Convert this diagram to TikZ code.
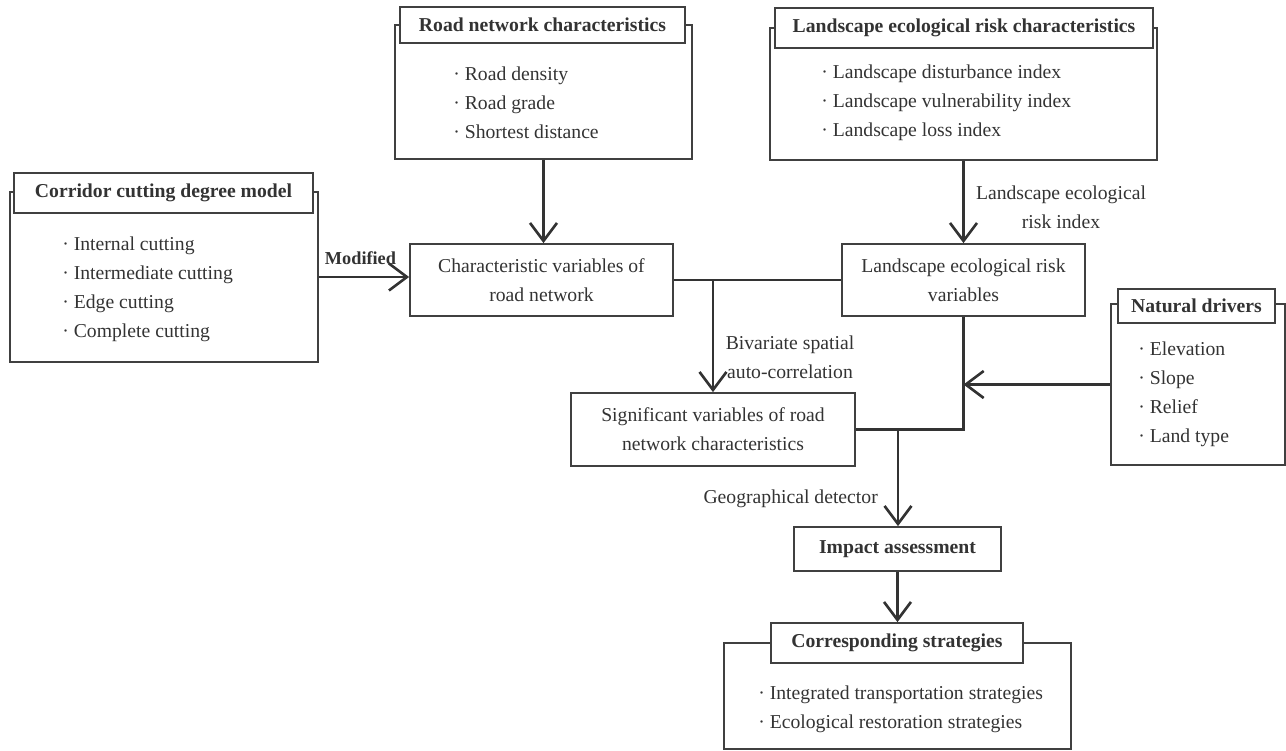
\documentclass[tikz,border=0pt]{standalone}
\usepackage{fontspec}
\setmainfont{Liberation Serif}
\usepackage{tikz}
\usetikzlibrary{arrows.meta,positioning}

\begin{document}
\begin{tikzpicture}[x=0.02cm, y=-0.02cm,
  every node/.style={font=\fontsize{11.2}{16.5}\selectfont, text=black!80},
  frame/.style={rectangle, draw=black!75, line width=1pt},
  head/.style={rectangle, draw=black!75, line width=1pt, fill=white, font=\fontsize{11.2}{14}\selectfont\bfseries},
  box/.style={rectangle, draw=black!75, line width=1pt, align=center},
  items/.style={align=left, anchor=west, inner sep=0pt},
  lnk/.style={line width=1.6pt, draw=black!80},
  arr/.style={lnk, -{Straight Barb[length=3.6mm, width=5.4mm, line width=1.5pt]}}
]
\useasboundingbox (0,0) rectangle (1286,751);

% grouped boxes
\node[frame, minimum width=6.16cm, minimum height=3.4cm] (corrFrame) at (164,277) {};
\node[head, minimum width=5.98cm, minimum height=0.8cm] (corrHead) at (163.5,193) {Corridor cutting degree model};
\node[items] (corrItems) at (62,289) {· Internal cutting\\· Intermediate cutting\\· Edge cutting\\· Complete cutting};

\node[frame, minimum width=5.94cm, minimum height=2.68cm] (roadFrame) at (543.5,92) {};
\node[head, minimum width=5.7cm, minimum height=0.72cm] (roadHead) at (542.5,25) {Road network characteristics};
\node[items] (roadItems) at (453,103) {· Road density\\· Road grade\\· Shortest distance};

\node[frame, minimum width=7.74cm, minimum height=2.64cm] (landFrame) at (963.5,94) {};
\node[head, minimum width=7.56cm, minimum height=0.8cm] (landHead) at (964,28) {Landscape ecological risk characteristics};
\node[items] (landItems) at (821,103) {· Landscape disturbance index\\· Landscape vulnerability index\\· Landscape loss index};

\node[frame, minimum width=3.48cm, minimum height=3.22cm] (natFrame) at (1198,384.5) {};
\node[head, minimum width=3.14cm, minimum height=0.68cm] (natHead) at (1196.5,306) {Natural drivers};
\node[items] (natItems) at (1138,394) {· Elevation\\· Slope\\· Relief\\· Land type};

\node[frame, minimum width=6.94cm, minimum height=2.12cm] (stratFrame) at (897.5,696) {};
\node[head, minimum width=5.04cm, minimum height=0.8cm] (stratHead) at (897,643) {Corresponding strategies};
\node[items] (stratItems) at (758,709) {· Integrated transportation strategies\\· Ecological restoration strategies};

% variable boxes
\node[box, minimum width=5.26cm, minimum height=1.44cm] (charVar) at (541.5,280) {Characteristic variables of\\road network};
\node[box, minimum width=4.86cm, minimum height=1.44cm] (lerVar) at (963.5,280) {Landscape ecological risk\\variables};
\node[box, minimum width=5.68cm, minimum height=1.46cm] (sigVar) at (713,429.5) {Significant variables of road\\network characteristics};
\node[head, minimum width=4.14cm, minimum height=0.88cm] (impact) at (897.5,549) {Impact assessment};

% labels
\node[align=center] (lerLabel) at (1061,207) {Landscape ecological\\risk index};
\node[align=center] (bivLabel) at (790,357) {Bivariate spatial\\auto-correlation};
\node[anchor=east] (geoLabel) at (884,499) {Geographical detector};

% connectors
\draw[arr] (corrFrame.east) -- (corrFrame.east -| charVar.west) node[midway, above=3pt, xshift=-2pt, font=\fontsize{10.4}{13}\selectfont\bfseries] (modLabel) {Modified};
\draw[arr] (roadFrame.south) -- (roadFrame.south |- charVar.north);
\draw[arr] (landFrame.south) -- (landFrame.south |- lerVar.north);
\draw[lnk] (charVar.east) -- (lerVar.west);
\coordinate (j1) at (charVar.east -| sigVar.north);
\draw[arr] (j1) -- (sigVar.north);
\draw[lnk] (lerVar.south) -- (lerVar.south |- sigVar.east) -- (sigVar.east);
\coordinate (j2) at (898,429.5);
\draw[arr] (j2) -- (j2 |- impact.north);
\draw[arr] (natFrame.west) -- (natFrame.west -| lerVar.south);
\draw[arr] (impact.south) -- (impact.south |- stratHead.north);
\end{tikzpicture}
\end{document}
